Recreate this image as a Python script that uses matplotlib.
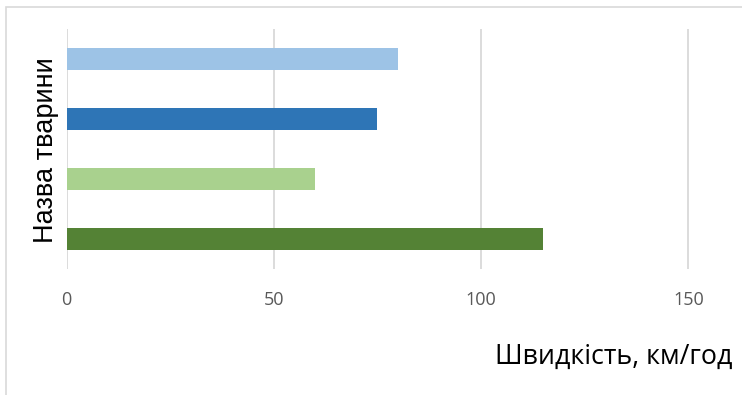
import matplotlib
matplotlib.use("Agg")
import matplotlib.pyplot as plt
from matplotlib.patches import Rectangle

# швидкості (км/год), знизу вгору
speeds = [115, 60, 75, 80]
bar_colors = ["#548235", "#a9d18e", "#2e75b6", "#9dc3e6"]
x_ticks = [0, 50, 100, 150]

W, H = 742, 395
fig = plt.figure(figsize=(W / 100, H / 100), dpi=100)

# рамка діаграми (права й нижня сторони за межами кадру)
fig.patches.append(Rectangle((5.5 / W, -0.1), 1.2, 1.1 - 7 / H,
                             transform=fig.transFigure, fill=False,
                             edgecolor="#d9d9d9", linewidth=1.2))

ax = fig.add_axes([66.5 / W, 126 / H, (W - 66.5) / W, 240 / H])
pos = list(range(len(speeds)))
ax.barh(pos, speeds, height=0.365, color=bar_colors, zorder=3)

ax.set_ylim(-0.5, len(speeds) - 0.5)
ax.set_xlim(0, (W - 66.5) / 4.146)
ax.set_xticks(x_ticks)
ax.set_xticklabels([str(t) for t in x_ticks], family=["Open Sans", "DejaVu Sans"],
                   fontsize=13, color="#595959")
ax.set_yticks([])
ax.tick_params(axis="x", length=0, pad=16)
ax.grid(axis="x", color="#d9d9d9", linewidth=1.3, zorder=0)
for s in ax.spines.values():
    s.set_visible(False)

fig.text(495 / W, 1 - 364 / H, "Швидкість, км/год", family=["Open Sans", "DejaVu Sans"],
         fontsize=19.3, color="black", ha="left", va="baseline")
fig.text(53 / W, 1 - 150 / H, "Назва тварини", family=["Liberation Sans", "DejaVu Sans"],
         fontsize=19.5, color="black", rotation=90, rotation_mode="anchor",
         ha="center", va="baseline")

fig.savefig("out.png", dpi=100)
